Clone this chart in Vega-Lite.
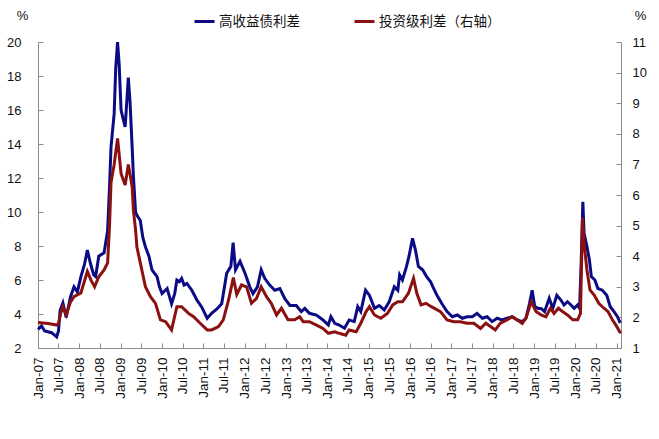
{
  "$schema": "https://vega.github.io/schema/vega-lite/v6.json",
  "width": 583,
  "height": 306,
  "autosize": {"type": "none"},
  "padding": {"left": 38, "top": 42, "right": 38, "bottom": 91},
  "background": "white",
  "config": {
    "view": {"stroke": null},
    "font": "Liberation Sans",
    "axis": {"grid": false, "domainColor": "#8c8c8c", "tickColor": "#8c8c8c", "labelColor": "#111", "labelFont": "Liberation Sans", "labelFontSize": 13, "titleFont": "Liberation Sans", "titleFontSize": 13, "titleFontWeight": "normal", "titleColor": "#111"},
    "legend": {"labelFont": "Noto Sans CJK SC", "labelFontSize": 13.5, "labelColor": "#111"}
  },
  "datasets": {
    "hy": [
      {"d": "2007-01-01", "v": 3.1}, {"d": "2007-02-01", "v": 3.3}, {"d": "2007-03-01", "v": 3.0}, {"d": "2007-05-01", "v": 2.9}, {"d": "2007-06-15", "v": 2.65}, {"d": "2007-07-01", "v": 3.0}, {"d": "2007-07-15", "v": 4.2}, {"d": "2007-08-09", "v": 4.65}, {"d": "2007-09-07", "v": 3.8}, {"d": "2007-10-15", "v": 5.0}, {"d": "2007-11-15", "v": 5.6}, {"d": "2007-12-15", "v": 5.3},
      {"d": "2008-01-15", "v": 6.2}, {"d": "2008-02-15", "v": 6.9}, {"d": "2008-03-12", "v": 7.76}, {"d": "2008-04-07", "v": 7.0}, {"d": "2008-05-07", "v": 6.3}, {"d": "2008-05-24", "v": 6.2}, {"d": "2008-06-21", "v": 7.4}, {"d": "2008-08-07", "v": 7.6}, {"d": "2008-09-07", "v": 8.9}, {"d": "2008-09-24", "v": 11.5}, {"d": "2008-10-07", "v": 13.8}, {"d": "2008-11-04", "v": 15.8}, {"d": "2008-11-18", "v": 18.5}, {"d": "2008-12-04", "v": 20.0}, {"d": "2008-12-18", "v": 18.7},
      {"d": "2009-01-04", "v": 16.0}, {"d": "2009-01-18", "v": 15.6}, {"d": "2009-02-09", "v": 15.0}, {"d": "2009-03-09", "v": 17.9}, {"d": "2009-03-24", "v": 16.5}, {"d": "2009-04-12", "v": 13.8}, {"d": "2009-04-23", "v": 12.1}, {"d": "2009-05-12", "v": 10.0}, {"d": "2009-05-24", "v": 9.8}, {"d": "2009-06-23", "v": 9.5}, {"d": "2009-07-15", "v": 8.5}, {"d": "2009-08-07", "v": 7.96}, {"d": "2009-09-07", "v": 7.4}, {"d": "2009-10-04", "v": 6.6}, {"d": "2009-11-18", "v": 6.2}, {"d": "2009-12-09", "v": 5.6},
      {"d": "2010-01-01", "v": 5.2}, {"d": "2010-02-15", "v": 5.5}, {"d": "2010-03-26", "v": 4.6}, {"d": "2010-04-23", "v": 5.2}, {"d": "2010-05-12", "v": 6.0}, {"d": "2010-06-04", "v": 5.9}, {"d": "2010-06-23", "v": 6.1}, {"d": "2010-07-15", "v": 5.7}, {"d": "2010-08-09", "v": 5.8}, {"d": "2010-09-21", "v": 5.4}, {"d": "2010-11-07", "v": 4.8}, {"d": "2010-12-18", "v": 4.4},
      {"d": "2011-02-04", "v": 3.75}, {"d": "2011-03-15", "v": 4.04}, {"d": "2011-05-01", "v": 4.3}, {"d": "2011-06-12", "v": 4.6}, {"d": "2011-07-26", "v": 6.4}, {"d": "2011-09-01", "v": 6.8}, {"d": "2011-09-21", "v": 8.2}, {"d": "2011-10-12", "v": 6.6}, {"d": "2011-11-21", "v": 7.1},
      {"d": "2012-01-04", "v": 6.4}, {"d": "2012-02-15", "v": 5.6}, {"d": "2012-03-15", "v": 5.2}, {"d": "2012-04-23", "v": 5.6}, {"d": "2012-05-26", "v": 6.6}, {"d": "2012-06-26", "v": 6.1}, {"d": "2012-08-09", "v": 5.7}, {"d": "2012-09-23", "v": 5.4}, {"d": "2012-11-07", "v": 5.5}, {"d": "2012-12-21", "v": 4.9},
      {"d": "2013-02-04", "v": 4.5}, {"d": "2013-04-01", "v": 4.5}, {"d": "2013-05-15", "v": 4.14}, {"d": "2013-06-15", "v": 4.33}, {"d": "2013-07-26", "v": 4.04}, {"d": "2013-09-26", "v": 3.94}, {"d": "2013-11-23", "v": 3.65},
      {"d": "2014-01-09", "v": 3.35}, {"d": "2014-02-01", "v": 3.84}, {"d": "2014-03-07", "v": 3.45}, {"d": "2014-04-15", "v": 3.35}, {"d": "2014-06-01", "v": 3.16}, {"d": "2014-07-12", "v": 3.65}, {"d": "2014-08-26", "v": 3.55}, {"d": "2014-09-26", "v": 4.43}, {"d": "2014-10-23", "v": 4.14}, {"d": "2014-12-04", "v": 5.4},
      {"d": "2015-01-07", "v": 5.1}, {"d": "2015-02-21", "v": 4.33}, {"d": "2015-04-04", "v": 4.5}, {"d": "2015-05-18", "v": 4.24}, {"d": "2015-07-01", "v": 4.72}, {"d": "2015-08-15", "v": 5.6}, {"d": "2015-09-15", "v": 5.4}, {"d": "2015-10-01", "v": 6.3}, {"d": "2015-10-26", "v": 6.0}, {"d": "2015-12-01", "v": 6.8}, {"d": "2015-12-23", "v": 7.4},
      {"d": "2016-01-23", "v": 8.45}, {"d": "2016-02-18", "v": 7.76}, {"d": "2016-03-15", "v": 6.8}, {"d": "2016-04-21", "v": 6.6}, {"d": "2016-05-26", "v": 6.2}, {"d": "2016-07-01", "v": 5.9}, {"d": "2016-07-21", "v": 5.6}, {"d": "2016-08-26", "v": 5.1}, {"d": "2016-10-09", "v": 4.6}, {"d": "2016-11-23", "v": 4.14},
      {"d": "2017-01-09", "v": 3.84}, {"d": "2017-02-21", "v": 3.94}, {"d": "2017-04-07", "v": 3.75}, {"d": "2017-05-18", "v": 3.84}, {"d": "2017-07-04", "v": 3.84}, {"d": "2017-08-15", "v": 4.04}, {"d": "2017-10-01", "v": 3.75}, {"d": "2017-11-12", "v": 3.84}, {"d": "2017-12-26", "v": 3.55},
      {"d": "2018-02-09", "v": 3.75}, {"d": "2018-03-23", "v": 3.65}, {"d": "2018-05-07", "v": 3.75}, {"d": "2018-06-21", "v": 3.84}, {"d": "2018-08-04", "v": 3.65}, {"d": "2018-09-18", "v": 3.55}, {"d": "2018-10-21", "v": 3.75}, {"d": "2018-11-21", "v": 4.6}, {"d": "2018-12-15", "v": 5.4},
      {"d": "2019-01-07", "v": 4.43}, {"d": "2019-02-07", "v": 4.33}, {"d": "2019-03-04", "v": 4.33}, {"d": "2019-04-04", "v": 4.14}, {"d": "2019-05-15", "v": 4.92}, {"d": "2019-06-15", "v": 4.33}, {"d": "2019-07-21", "v": 5.1}, {"d": "2019-08-26", "v": 4.82}, {"d": "2019-09-23", "v": 4.53}, {"d": "2019-10-23", "v": 4.72}, {"d": "2019-11-23", "v": 4.53}, {"d": "2019-12-21", "v": 4.33},
      {"d": "2020-01-21", "v": 4.53}, {"d": "2020-02-07", "v": 4.33}, {"d": "2020-02-21", "v": 6.98}, {"d": "2020-03-07", "v": 10.6}, {"d": "2020-03-18", "v": 8.75}, {"d": "2020-04-12", "v": 7.96}, {"d": "2020-05-04", "v": 7.18}, {"d": "2020-05-21", "v": 6.2}, {"d": "2020-06-21", "v": 6.0}, {"d": "2020-07-18", "v": 5.5}, {"d": "2020-08-26", "v": 5.4}, {"d": "2020-10-04", "v": 5.1}, {"d": "2020-11-04", "v": 4.43}, {"d": "2020-12-07", "v": 4.14},
      {"d": "2021-01-07", "v": 3.84}, {"d": "2021-01-26", "v": 3.55}, {"d": "2021-02-07", "v": 3.6}
    ],
    "ig": [
      {"d": "2007-01-01", "v": 1.83}, {"d": "2007-04-01", "v": 1.8}, {"d": "2007-06-15", "v": 1.75}, {"d": "2007-07-01", "v": 1.8}, {"d": "2007-07-21", "v": 2.14}, {"d": "2007-08-09", "v": 2.35}, {"d": "2007-09-07", "v": 2.08}, {"d": "2007-10-15", "v": 2.5}, {"d": "2007-11-15", "v": 2.68},
      {"d": "2008-01-15", "v": 2.8}, {"d": "2008-03-12", "v": 3.5}, {"d": "2008-04-15", "v": 3.2}, {"d": "2008-05-15", "v": 3.0}, {"d": "2008-06-21", "v": 3.33}, {"d": "2008-08-07", "v": 3.55}, {"d": "2008-09-07", "v": 3.78}, {"d": "2008-09-24", "v": 5.0}, {"d": "2008-10-07", "v": 6.4}, {"d": "2008-11-04", "v": 7.0}, {"d": "2008-11-18", "v": 7.4}, {"d": "2008-12-04", "v": 7.85},
      {"d": "2009-01-04", "v": 6.7}, {"d": "2009-02-09", "v": 6.33}, {"d": "2009-03-09", "v": 7.0}, {"d": "2009-04-12", "v": 6.27}, {"d": "2009-04-23", "v": 5.5}, {"d": "2009-05-12", "v": 4.86}, {"d": "2009-05-24", "v": 4.3}, {"d": "2009-06-23", "v": 3.78}, {"d": "2009-08-07", "v": 3.0}, {"d": "2009-09-21", "v": 2.68}, {"d": "2009-11-04", "v": 2.46}, {"d": "2009-12-18", "v": 1.92},
      {"d": "2010-02-01", "v": 1.86}, {"d": "2010-03-26", "v": 1.59}, {"d": "2010-05-12", "v": 2.35}, {"d": "2010-06-23", "v": 2.35}, {"d": "2010-08-23", "v": 2.13}, {"d": "2010-10-07", "v": 2.02}, {"d": "2010-12-04", "v": 1.81},
      {"d": "2011-02-04", "v": 1.59}, {"d": "2011-03-15", "v": 1.59}, {"d": "2011-05-15", "v": 1.7}, {"d": "2011-06-26", "v": 1.92}, {"d": "2011-08-12", "v": 2.57}, {"d": "2011-09-23", "v": 3.3}, {"d": "2011-10-23", "v": 2.75}, {"d": "2011-12-04", "v": 3.06},
      {"d": "2012-01-18", "v": 3.0}, {"d": "2012-03-01", "v": 2.46}, {"d": "2012-04-15", "v": 2.62}, {"d": "2012-05-26", "v": 3.0}, {"d": "2012-07-12", "v": 2.68}, {"d": "2012-08-23", "v": 2.46}, {"d": "2012-10-09", "v": 2.08}, {"d": "2012-11-21", "v": 2.3},
      {"d": "2013-01-18", "v": 1.92}, {"d": "2013-03-18", "v": 1.92}, {"d": "2013-05-01", "v": 2.02}, {"d": "2013-06-01", "v": 1.86}, {"d": "2013-07-26", "v": 1.86}, {"d": "2013-09-26", "v": 1.75}, {"d": "2013-11-23", "v": 1.64},
      {"d": "2014-01-09", "v": 1.48}, {"d": "2014-03-07", "v": 1.53}, {"d": "2014-04-15", "v": 1.48}, {"d": "2014-06-12", "v": 1.42}, {"d": "2014-07-12", "v": 1.59}, {"d": "2014-09-12", "v": 1.53}, {"d": "2014-10-23", "v": 1.81}, {"d": "2014-12-09", "v": 2.19},
      {"d": "2015-01-07", "v": 2.35}, {"d": "2015-02-21", "v": 2.08}, {"d": "2015-04-18", "v": 1.97}, {"d": "2015-06-15", "v": 2.13}, {"d": "2015-08-01", "v": 2.41}, {"d": "2015-09-15", "v": 2.51}, {"d": "2015-10-26", "v": 2.51}, {"d": "2015-12-18", "v": 2.79},
      {"d": "2016-02-01", "v": 3.28}, {"d": "2016-03-01", "v": 2.79}, {"d": "2016-04-07", "v": 2.41}, {"d": "2016-05-21", "v": 2.46}, {"d": "2016-07-07", "v": 2.35}, {"d": "2016-09-26", "v": 2.19}, {"d": "2016-11-23", "v": 1.92},
      {"d": "2017-01-23", "v": 1.86}, {"d": "2017-03-21", "v": 1.86}, {"d": "2017-05-18", "v": 1.81}, {"d": "2017-07-18", "v": 1.81}, {"d": "2017-09-15", "v": 1.64}, {"d": "2017-11-01", "v": 1.81}, {"d": "2017-12-12", "v": 1.7},
      {"d": "2018-01-23", "v": 1.59}, {"d": "2018-03-09", "v": 1.81}, {"d": "2018-05-07", "v": 1.92}, {"d": "2018-06-21", "v": 2.02}, {"d": "2018-08-04", "v": 1.92}, {"d": "2018-09-18", "v": 1.8}, {"d": "2018-10-21", "v": 1.97}, {"d": "2018-12-07", "v": 2.51},
      {"d": "2019-01-18", "v": 2.19}, {"d": "2019-03-04", "v": 2.08}, {"d": "2019-04-15", "v": 2.02}, {"d": "2019-05-26", "v": 2.3}, {"d": "2019-06-26", "v": 2.13}, {"d": "2019-08-04", "v": 2.3}, {"d": "2019-09-09", "v": 2.19}, {"d": "2019-10-23", "v": 2.08}, {"d": "2019-12-09", "v": 1.92},
      {"d": "2020-01-21", "v": 1.92}, {"d": "2020-02-15", "v": 2.13}, {"d": "2020-03-04", "v": 5.25}, {"d": "2020-03-18", "v": 4.42}, {"d": "2020-04-12", "v": 3.55}, {"d": "2020-05-09", "v": 2.9}, {"d": "2020-06-15", "v": 2.73}, {"d": "2020-07-26", "v": 2.46}, {"d": "2020-09-09", "v": 2.3}, {"d": "2020-10-15", "v": 2.19}, {"d": "2020-11-23", "v": 1.92},
      {"d": "2021-01-01", "v": 1.7}, {"d": "2021-01-26", "v": 1.53}, {"d": "2021-02-07", "v": 1.49}
    ]
  },
  "encoding": {
    "x": {
      "field": "d", "type": "temporal",
      "scale": {"domain": ["2007-01-01", "2021-02-07"], "nice": false},
      "axis": {"title": null, "format": "%b-%y", "tickCount": {"interval": "month", "step": 6}, "labelAngle": -90, "labelFontSize": 13.5, "tickSize": -5, "labelPadding": 14, "labelOverlap": false, "labelBound": false, "labelFlush": false}
    }
  },
  "layer": [
    {
      "data": {"name": "hy"},
      "mark": {"type": "line", "strokeWidth": 3, "interpolate": "linear"},
      "encoding": {
        "y": {"field": "v", "type": "quantitative", "scale": {"domain": [2, 20], "nice": false, "zero": false},
          "axis": {"title": "%", "titleAngle": 0, "titleX": -16, "titleY": -20, "titleAlign": "center", "values": [2, 4, 6, 8, 10, 12, 14, 16, 18, 20], "tickSize": -5, "labelPadding": 22}},
        "color": {"datum": "高收益债利差", "type": "nominal",
          "scale": {"domain": ["高收益债利差", "投资级利差（右轴）"], "range": ["#0b0b86", "#8b1010"]},
          "legend": {"title": null, "orient": "none", "legendX": 155, "legendY": -32, "direction": "horizontal", "symbolType": "stroke", "symbolStrokeWidth": 3, "symbolSize": 400, "columnPadding": 48, "labelOffset": 3}}
      }
    },
    {
      "data": {"name": "ig"},
      "mark": {"type": "line", "strokeWidth": 3, "interpolate": "linear"},
      "encoding": {
        "y": {"field": "v", "type": "quantitative", "scale": {"domain": [1, 11], "nice": false, "zero": false},
          "axis": {"title": "%", "orient": "right", "titleAngle": 0, "titleX": 19, "titleY": -20, "titleAlign": "center", "values": [1, 2, 3, 4, 5, 6, 7, 8, 9, 10, 11], "tickSize": -5, "labelPadding": 16}},
        "color": {"datum": "投资级利差（右轴）", "type": "nominal"}
      }
    }
  ],
  "resolve": {"scale": {"y": "independent"}}
}
